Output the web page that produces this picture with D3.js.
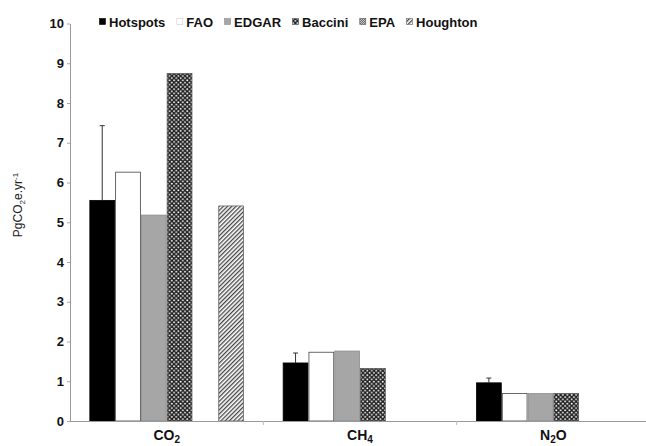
<!DOCTYPE html>
<html>
<head>
<meta charset="utf-8">
<script src="https://cdn.jsdelivr.net/npm/d3@7"></script>
<style>
  html, body { margin: 0; padding: 0; background: #fff; }
  svg { display: block; font-family: Arial, "Liberation Sans", sans-serif; }
</style>
</head>
<body>
<svg id="chart" width="646" height="446"></svg>
<script>
// data
const categories = ['CO2', 'CH4', 'N2O'];
const categoryLabels = [['CO', '2', ''], ['CH', '4', ''], ['N', '2', 'O']];
const series = ['Hotspots', 'FAO', 'EDGAR', 'Baccini', 'EPA', 'Houghton'];
const hotspots = [5.55, 1.46, 0.96];
const hotspotsError = [1.88, 0.25, 0.12];
const fao = [6.26, 1.73, 0.69];
const edgar = [5.18, 1.76, 0.69];
const baccini = [8.74, 1.32, 0.69];
const epa = [null, null, null];
const houghton = [5.41, null, null];
const yTicks = [0, 1, 2, 3, 4, 5, 6, 7, 8, 9, 10];

const values = [hotspots, fao, edgar, baccini, epa, houghton];
const width = 646;
const height = 446;
const svg = d3.select('#chart');

// patterns
const defs = svg.append('defs');
const checker = defs.append('pattern')
  .attr('id', 'checker').attr('patternUnits', 'userSpaceOnUse')
  .attr('width', 4.4).attr('height', 4.4);
checker.append('rect').attr('width', 4.4).attr('height', 4.4).attr('fill', '#222');
checker.append('circle').attr('cx', 1.1).attr('cy', 1.1).attr('r', 0.95).attr('fill', '#fff');
checker.append('circle').attr('cx', 3.3).attr('cy', 3.3).attr('r', 0.95).attr('fill', '#fff');

const fine = defs.append('pattern')
  .attr('id', 'fine').attr('patternUnits', 'userSpaceOnUse')
  .attr('width', 2).attr('height', 2);
fine.append('rect').attr('width', 2).attr('height', 2).attr('fill', '#fff');
fine.append('rect').attr('width', 1).attr('height', 1).attr('fill', '#333');
fine.append('rect').attr('x', 1).attr('y', 1).attr('width', 1).attr('height', 1).attr('fill', '#333');

const hatch = defs.append('pattern')
  .attr('id', 'hatch').attr('patternUnits', 'userSpaceOnUse')
  .attr('width', 3).attr('height', 3)
  .attr('patternTransform', 'rotate(45)');
hatch.append('rect').attr('width', 3).attr('height', 3).attr('fill', '#fff');
hatch.append('rect').attr('width', 1.3).attr('height', 3).attr('fill', '#444');

const fills = ['#000', '#fff', '#a6a6a6', 'url(#checker)', 'url(#fine)', 'url(#hatch)'];
const strokes = ['#000', '#444', '#8c8c8c', '#555', '#555', '#666'];

// scales
const x0 = 70;
const yBase = 421;
const x = d3.scaleBand().domain(categories).range([x0, x0 + 580])
  .paddingInner(0.2).paddingOuter(0.1);
const xs = d3.scaleBand().domain(series).range([0, x.bandwidth()]);
const y = d3.scaleLinear().domain([0, 10]).range([yBase, 23.5]);

// y axis
const yAxis = svg.append('g')
  .attr('transform', `translate(${x0},0)`)
  .call(d3.axisLeft(y).tickValues(yTicks).tickSize(3).tickSizeOuter(0).tickPadding(3));
yAxis.select('.domain').attr('stroke', '#999');
yAxis.selectAll('.tick line').attr('stroke', '#aaa');
yAxis.selectAll('.tick text')
  .attr('font-size', 13).attr('font-weight', 'bold').attr('fill', '#111')
  .attr('font-family', 'Arial, "Liberation Sans", sans-serif');

// y label
const yLabel = svg.append('text')
  .attr('transform', 'translate(22,205) rotate(-90)')
  .attr('text-anchor', 'middle')
  .attr('font-size', 12).attr('fill', '#222');
yLabel.append('tspan').text('PgCO');
yLabel.append('tspan').text('2').attr('font-size', 8).attr('dy', 3);
yLabel.append('tspan').text('e.yr').attr('dy', -3);
yLabel.append('tspan').text('-1').attr('font-size', 8).attr('dy', -4);

// bars
const groups = svg.append('g').selectAll('g')
  .data(categories)
  .enter()
  .append('g')
  .attr('transform', (d) => `translate(${x(d)},0)`);

groups.selectAll('rect')
  .data((d, i) => series.map((s, j) => ({ s, j, v: values[j][i] })).filter((b) => b.v != null))
  .enter()
  .append('rect')
  .attr('x', (b) => xs(b.s) + 0.5)
  .attr('width', xs.bandwidth() - 1)
  .attr('y', (b) => y(b.v))
  .attr('height', (b) => yBase - y(b.v))
  .attr('fill', (b) => fills[b.j])
  .attr('stroke', (b) => strokes[b.j])
  .attr('stroke-width', 0.8);

// error bars on Hotspots
groups.each(function (d, i) {
  const g = d3.select(this);
  const cx = xs('Hotspots') + xs.bandwidth() / 2;
  const top = y(hotspots[i] + hotspotsError[i]);
  g.append('line')
    .attr('x1', cx).attr('x2', cx)
    .attr('y1', y(hotspots[i])).attr('y2', top)
    .attr('stroke', '#333').attr('stroke-width', 1);
  g.append('line')
    .attr('x1', cx - 2.5).attr('x2', cx + 2.5)
    .attr('y1', top).attr('y2', top)
    .attr('stroke', '#333').attr('stroke-width', 1);
});

// x axis
svg.append('line')
  .attr('x1', x0).attr('x2', width)
  .attr('y1', yBase + 0.5).attr('y2', yBase + 0.5)
  .attr('stroke', '#999');
svg.append('g').selectAll('line')
  .data(categories.slice(1))
  .enter()
  .append('line')
  .attr('x1', (d) => x(d) - x.step() * 0.1).attr('x2', (d) => x(d) - x.step() * 0.1)
  .attr('y1', yBase).attr('y2', yBase + 4)
  .attr('stroke', '#bbb');

const catText = svg.append('g').selectAll('text')
  .data(categories)
  .enter()
  .append('text')
  .attr('x', (d) => x(d) + x.bandwidth() / 2)
  .attr('y', 440)
  .attr('text-anchor', 'middle')
  .attr('font-size', 14).attr('font-weight', 'bold').attr('fill', '#111');
catText.each(function (d, i) {
  const t = d3.select(this);
  const [a, sub, b] = categoryLabels[i];
  t.append('tspan').text(a);
  t.append('tspan').text(sub).attr('font-size', 10).attr('dy', 3);
  if (b) t.append('tspan').text(b).attr('dy', -3);
});

// legend
const legend = svg.append('g').attr('transform', 'translate(99,0)');
let lx = 0;
series.forEach((s, j) => {
  const item = legend.append('g').attr('transform', `translate(${lx},0)`);
  item.append('rect')
    .attr('x', 0.5).attr('y', 18.5).attr('width', 6).attr('height', 6)
    .attr('fill', fills[j])
    .attr('stroke', j === 1 ? '#ccc' : strokes[j]).attr('stroke-width', 0.6);
  const t = item.append('text')
    .attr('x', 10).attr('y', 26.5)
    .attr('font-size', 13).attr('font-weight', 'bold').attr('fill', '#111')
    .text(s);
  lx += 10 + t.node().getComputedTextLength() + 11;
});
</script>
</body>
</html>
